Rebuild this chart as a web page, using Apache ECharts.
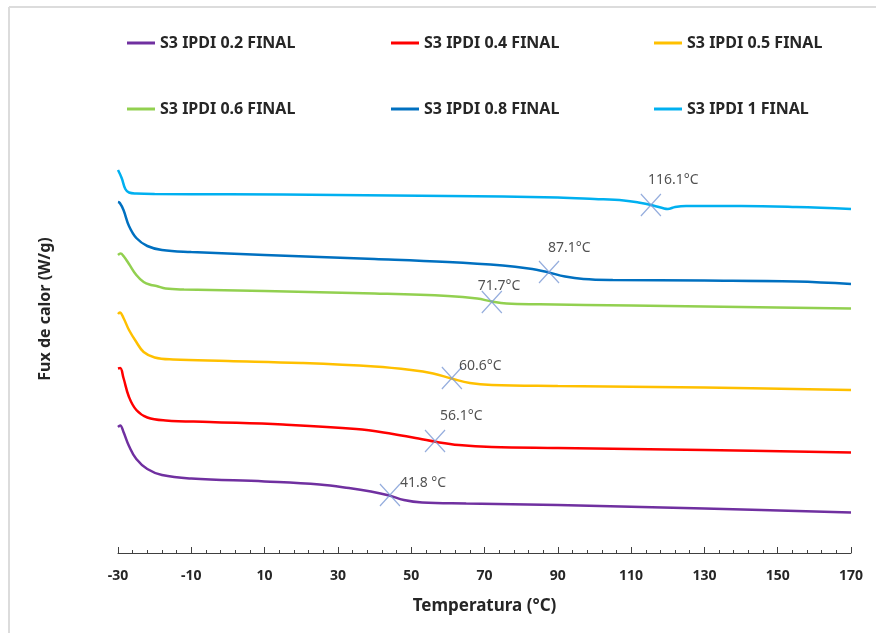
<!DOCTYPE html>
<html>
<head>
<meta charset="utf-8">
<script src="https://cdn.jsdelivr.net/npm/echarts@6/dist/echarts.min.js"></script>
<style>
  html, body { margin: 0; padding: 0; background: #fff; }
  #dsc-chart { width: 876px; height: 633px; }
</style>
</head>
<body>
<div id="dsc-chart"></div>
<script>
// temperatura (°C) y flujo de calor (desplazado, sin unidades en el eje)
var names = ['S3 IPDI 0.2 FINAL', 'S3 IPDI 0.4 FINAL', 'S3 IPDI 0.5 FINAL',
             'S3 IPDI 0.6 FINAL', 'S3 IPDI 0.8 FINAL', 'S3 IPDI 1 FINAL'];
var colors = ['#7030A0', '#FF0000', '#FFC000', '#92D050', '#0070C0', '#00B0F0'];

var tPurple = [-30, -29.4, -28.5, -27, -25, -22, -18, -10, 10, 25, 33, 39, 44, 48, 53, 65, 90, 130, 170];
var yPurple = [12.6, 12.75, 12.1, 10.7, 9.4, 8.4, 7.8, 7.45, 7.15, 6.85, 6.5, 6.15, 5.75, 5.3, 5.05, 4.95, 4.8, 4.45, 4.05];

var tRed = [-30, -29.4, -28.5, -27, -25, -22, -17, -5, 15, 35, 45, 52, 57, 63, 72, 90, 130, 170];
var yRed = [18.45, 18.5, 17.5, 15.6, 14.3, 13.55, 13.25, 13.1, 12.85, 12.4, 11.9, 11.45, 11.1, 10.8, 10.6, 10.5, 10.3, 10.05];

var tYellow = [-30, -29.5, -28.5, -27, -25, -23, -20, -15, 0, 20, 40, 50, 56, 61, 66, 72, 90, 130, 170];
var yYellow = [23.9, 24.05, 23.5, 22.3, 21.1, 20.1, 19.55, 19.35, 19.2, 19.0, 18.65, 18.3, 17.95, 17.45, 17.0, 16.8, 16.7, 16.55, 16.3];

var tGreen = [-30, -29.3, -28.5, -27, -25, -23, -21, -19.5, -17, -12, 10, 40, 60, 68, 72, 76, 85, 110, 140, 170];
var yGreen = [29.8, 29.95, 29.7, 28.9, 27.8, 27.1, 26.8, 26.7, 26.45, 26.35, 26.2, 25.95, 25.7, 25.45, 25.15, 24.95, 24.87, 24.75, 24.6, 24.45];

var tBlue = [-30, -29.5, -28.5, -27, -25, -22, -18, -10, 10, 40, 60, 75, 82, 87, 92, 97, 105, 130, 155, 170];
var yBlue = [35.1, 35.0, 34.3, 32.7, 31.5, 30.7, 30.3, 30.1, 29.8, 29.4, 29.1, 28.75, 28.45, 28.1, 27.65, 27.4, 27.3, 27.25, 27.15, 26.9];

var tCyan = [-30, -29, -28, -27, -25, -20, 0, 30, 60, 90, 100, 108, 112, 116, 119, 120, 122, 125, 140, 155, 170];
var yCyan = [38.3, 37.5, 36.4, 36.05, 35.95, 35.9, 35.87, 35.8, 35.7, 35.55, 35.4, 35.25, 35.05, 34.75, 34.45, 34.4, 34.6, 34.7, 34.7, 34.6, 34.4];

// marcas de transición vítrea (Tg)
var onsetT = [44.2, 56.5, 61.1, 72.0, 87.6, 115.4];
var onsetY = [5.8, 11.2, 17.5, 25.1, 28.1, 34.8];
var onsetText = ['41.8 °C', '56.1°C', '60.6°C', '71.7°C', '87.1°C', '116.1°C'];

var xTicks = ['-30', '-10', '10', '30', '50', '70', '90', '110', '130', '150', '170'];

function pairs(t, y) {
    var out = [];
    for (var i = 0; i < t.length; i++) out.push([t[i], y[i]]);
    return out;
}

var allT = [tPurple, tRed, tYellow, tGreen, tBlue, tCyan];
var allY = [yPurple, yRed, yYellow, yGreen, yBlue, yCyan];
var labelOffsets = [[10, -12], [5, -25], [7, -12], [-14, -16], [-1, -24], [-3, -25]];

var series = [];
for (var k = 0; k < names.length; k++) {
    series.push({
        name: names[k],
        type: 'line',
        data: pairs(allT[k], allY[k]),
        smooth: 0.4,
        showSymbol: false,
        lineStyle: { width: 2.5, color: colors[k] },
        itemStyle: { color: colors[k] },
        z: 2
    });
}

var onsetData = [];
for (var j = 0; j < onsetT.length; j++) {
    onsetData.push({
        value: [onsetT[j], onsetY[j]],
        label: { formatter: onsetText[j], offset: labelOffsets[j] }
    });
}
series.push({
    name: 'Tg',
    type: 'scatter',
    data: onsetData,
    symbol: 'path://M0,0L10,11M10,0L0,11',
    symbolSize: [20, 22],
    itemStyle: { color: 'transparent', borderColor: '#7A98D4', borderWidth: 1.3 },
    label: {
        show: true,
        position: 'inside',
        align: 'left',
        verticalAlign: 'middle',
        color: '#262626',
        fontFamily: 'Noto Sans',
        fontSize: 14
    },
    z: 5
});

// leyenda: una por serie, 3 columnas x 2 filas
var legendLeft = [122, 386, 649];
var legendTop = [30, 96];
var legends = [];
for (var m = 0; m < names.length; m++) {
    legends.push({
        data: [names[m]],
        left: legendLeft[m % 3],
        top: legendTop[Math.floor(m / 3)],
        icon: 'rect',
        itemWidth: 28,
        itemHeight: 3,
        selectedMode: false,
        textStyle: { fontFamily: 'Noto Sans', fontWeight: 'bold', fontSize: 16, color: '#262626' }
    });
}

var chart = echarts.init(document.getElementById('dsc-chart'));
var option = {
    animation: false,
    backgroundColor: '#fff',
    color: colors,
    legend: legends,
    grid: { left: 118, right: 25, top: 153, bottom: 80 },
    xAxis: [{
        type: 'value',
        min: -30,
        max: 170,
        interval: 20,
        axisLine: { lineStyle: { color: '#404040', width: 1 } },
        axisTick: { show: true, inside: true, length: 6, lineStyle: { color: '#404040' } },
        splitLine: { show: false },
        axisLabel: {
            margin: 16,
            color: '#262626',
            fontFamily: 'Noto Sans',
            fontWeight: 'bold',
            fontSize: 14,
            formatter: function (v) {
                var s = String(Math.round(v));
                return xTicks.indexOf(s) >= 0 ? s : '';
            }
        },
        name: 'Temperatura (°C)',
        nameLocation: 'middle',
        nameGap: 45,
        nameTextStyle: { color: '#262626', fontFamily: 'Noto Sans', fontWeight: 'bold', fontSize: 17 }
    }, {
        // marcas menores cada 4 °C
        type: 'value',
        position: 'bottom',
        offset: 0,
        min: -30,
        max: 170,
        interval: 4,
        axisLine: { show: false },
        axisTick: { show: true, inside: true, length: 3, lineStyle: { color: '#404040' } },
        axisLabel: { show: false },
        splitLine: { show: false }
    }],
    yAxis: {
        type: 'value',
        min: 0,
        max: 40,
        show: false
    },
    graphic: [
        { type: 'line', shape: { x1: 9, y1: 7, x2: 876, y2: 7 }, style: { stroke: '#dcdcdc', lineWidth: 2 } },
        { type: 'line', shape: { x1: 9, y1: 7, x2: 9, y2: 633 }, style: { stroke: '#dcdcdc', lineWidth: 2 } },
        {
            type: 'text',
            x: 45, y: 309,
            rotation: Math.PI / 2,
            style: {
                text: 'Fux de calor (W/g)',
                fill: '#262626',
                font: 'bold 16px "Noto Sans"',
                textAlign: 'center',
                textVerticalAlign: 'middle'
            }
        }
    ],
    series: series
};
chart.setOption(option);
</script>
</body>
</html>
